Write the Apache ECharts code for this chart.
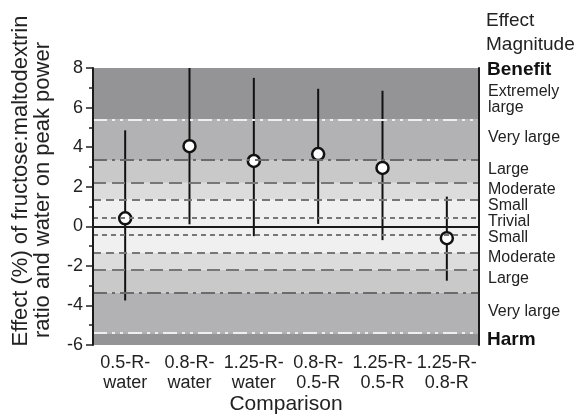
<!DOCTYPE html>
<html>
<head>
<meta charset="utf-8">
<script src="https://cdn.jsdelivr.net/npm/echarts@6/dist/echarts.min.js"></script>
<style>
  html, body { margin: 0; padding: 0; background: #fff; }
  #chart { width: 586px; height: 417px; }
</style>
</head>
<body>
<div id="chart"></div>
<script>
// comparisons and their effect (%) with confidence limits
const categories = ['0.5-R-\nwater', '0.8-R-\nwater', '1.25-R-\nwater', '0.8-R-\n0.5-R', '1.25-R-\n0.5-R', '1.25-R-\n0.8-R'];
const means = [0.4, 4.05, 3.3, 3.65, 2.95, -0.6];
const upper = [4.85, 8, 7.5, 6.95, 6.85, 1.5];
const lower = [-3.75, 0.1, -0.5, 0.12, -0.7, -2.75];

// effect magnitude thresholds (symmetric around 0)
const thresholds = [0.45, 1.35, 2.2, 3.35, 5.4];
const bandColors = ['#f0f0f1', '#dcdcdd', '#c9c9ca', '#b2b2b4', '#949497'];
const yRange = [-6, 8];

const lineStyles = [
  { color: '#777', width: 2, type: [5, 4] },
  { color: '#777', width: 2, type: [8, 5] },
  { color: '#777', width: 2, type: [13, 6] },
  { color: '#6b6b6b', width: 2, type: [14, 5, 3, 5] },
  { color: '#eeeeee', width: 2, type: [14, 5, 3, 5, 3, 5] }
];

// band areas
const areas = [];
const bounds = [yRange[0], -thresholds[4], -thresholds[3], -thresholds[2], -thresholds[1], thresholds[1], thresholds[2], thresholds[3], thresholds[4], yRange[1]];
const boundColors = [bandColors[4], bandColors[3], bandColors[2], bandColors[1], bandColors[0], bandColors[1], bandColors[2], bandColors[3], bandColors[4]];
for (let i = 0; i < bounds.length - 1; i++) {
  areas.push([{ yAxis: bounds[i], itemStyle: { color: boundColors[i] } }, { yAxis: bounds[i + 1] }]);
}

const lines = [];
thresholds.forEach((t, i) => {
  lines.push({ yAxis: t, lineStyle: lineStyles[i] });
  lines.push({ yAxis: -t, lineStyle: lineStyles[i] });
});
lines.push({ yAxis: 0, lineStyle: { color: '#111', width: 1.5, type: 'solid' } });

const barData = categories.map((c, i) => [i, lower[i], upper[i]]);
const pointData = categories.map((c, i) => [i, means[i]]);

const font = 'Liberation Sans, Arial, sans-serif';
const axisLine = { show: true, lineStyle: { color: '#1a1a1a', width: 2 } };

// right-hand effect magnitude labels
const magLabels = [
  ['Extremely', 92], ['large', 108], ['Very large', 138], ['Large', 170],
  ['Moderate', 190], ['Small', 206], ['Trivial', 222], ['Small', 238],
  ['Moderate', 258], ['Large', 279], ['Very large', 312]
];

const graphics = [
  { type: 'text', x: 21, y: 181, rotation: Math.PI / 2, style: { text: 'Effect (%) of fructose:maltodextrin', font: '22px ' + font, fill: '#222', align: 'center', verticalAlign: 'middle' } },
  { type: 'text', x: 43, y: 190, rotation: Math.PI / 2, style: { text: 'ratio and water on peak power', font: '22px ' + font, fill: '#222', align: 'center', verticalAlign: 'middle' } },
  { type: 'text', x: 286, y: 404, style: { text: 'Comparison', font: '21px ' + font, fill: '#222', align: 'center', verticalAlign: 'middle' } },
  { type: 'text', x: 486, y: 21, style: { text: 'Effect', font: '19px ' + font, fill: '#222', verticalAlign: 'middle' } },
  { type: 'text', x: 486, y: 45, style: { text: 'Magnitude', font: '19px ' + font, fill: '#222', verticalAlign: 'middle' } },
  { type: 'text', x: 487, y: 70, style: { text: 'Benefit', font: 'bold 19px ' + font, fill: '#111', verticalAlign: 'middle' } },
  { type: 'text', x: 487, y: 340, style: { text: 'Harm', font: 'bold 19px ' + font, fill: '#111', verticalAlign: 'middle' } }
];
magLabels.forEach(([t, y]) => {
  graphics.push({ type: 'text', x: 488, y: y, style: { text: t, font: '16px ' + font, fill: '#222', verticalAlign: 'middle' } });
});

const option = {
  animation: false,
  textStyle: { fontFamily: font },
  grid: { left: 93, right: 107, top: 68, bottom: 72 },
  xAxis: [
    {
      type: 'category', data: categories, z: 10,
      axisLine: axisLine, axisTick: { show: false },
      axisLabel: { interval: 0, fontSize: 18, lineHeight: 20, color: '#222', margin: 8 }
    },
    {
      type: 'category', data: categories, position: 'top', z: 10,
      axisLine: axisLine, axisTick: { show: false }, axisLabel: { show: false }
    }
  ],
  yAxis: [
    {
      type: 'value', min: yRange[0], max: yRange[1], interval: 2, z: 10,
      axisLine: axisLine,
      axisTick: { show: true, length: 7, lineStyle: { color: '#222', width: 1.5 } },
      minorTick: { show: true, splitNumber: 2, length: 4, lineStyle: { color: '#222', width: 1.5 } },
      splitLine: { show: false },
      axisLabel: { fontSize: 18, color: '#222', margin: 10 }
    },
    {
      type: 'value', min: yRange[0], max: yRange[1], interval: 2, position: 'right', z: 10,
      axisLine: axisLine, axisTick: { show: false }, axisLabel: { show: false }, splitLine: { show: false }
    }
  ],
  series: [
    {
      type: 'line', data: [], z: 1,
      markArea: { silent: true, data: areas }
    },
    {
      type: 'line', data: [], z: 2,
      markLine: { silent: true, symbol: 'none', label: { show: false }, data: lines }
    },
    {
      type: 'custom', z: 3, data: barData,
      renderItem: function (params, api) {
        const lo = api.coord([api.value(0), api.value(1)]);
        const hi = api.coord([api.value(0), api.value(2)]);
        return {
          type: 'line',
          shape: { x1: lo[0], y1: lo[1], x2: hi[0], y2: hi[1] },
          style: { stroke: '#111', lineWidth: 2 }
        };
      }
    },
    {
      type: 'scatter', z: 4, data: pointData, symbolSize: 12,
      itemStyle: { color: '#fff', borderColor: '#111', borderWidth: 2.5, opacity: 1 }
    }
  ],
  graphic: graphics
};

const chart = echarts.init(document.getElementById('chart'));
chart.setOption(option);
</script>
</body>
</html>
